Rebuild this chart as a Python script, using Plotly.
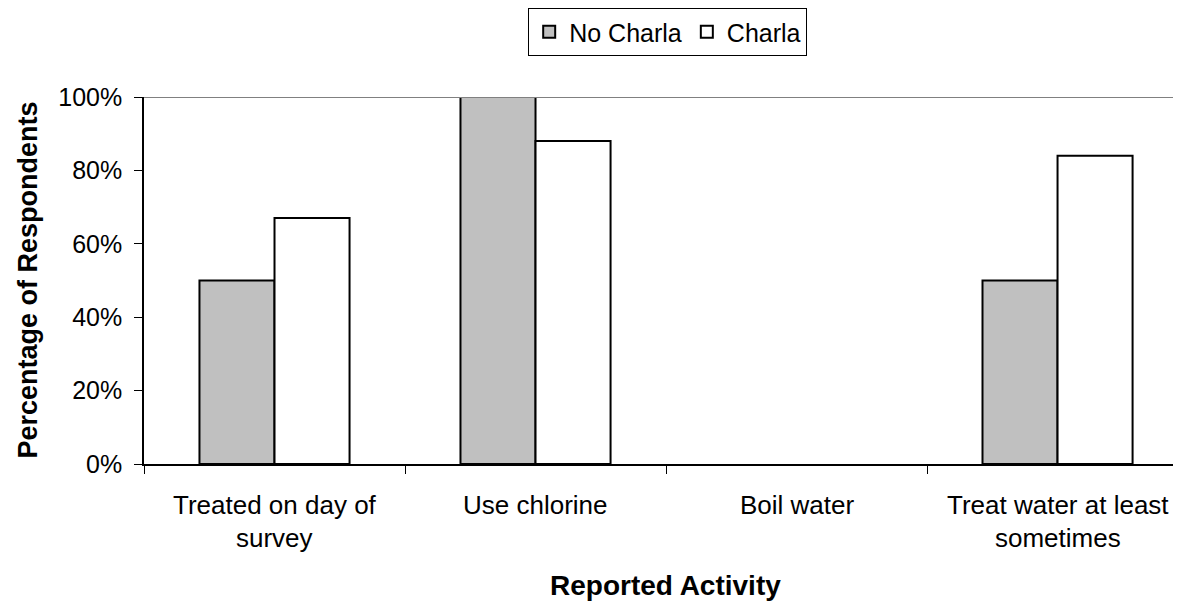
import plotly.graph_objects as go

categories = ["Treated on day of\nsurvey", "Use chlorine", "Boil water", "Treat water at least\nsometimes"]
no_charla = [0.50, 1.00, 0.0, 0.50]
charla = [0.67, 0.88, 0.0, 0.84]
series_names = ["No Charla", "Charla"]
y_ticks = [0, 0.2, 0.4, 0.6, 0.8, 1.0]
x_title = "Reported Activity"
y_title = "Percentage of Respondents"

FONT = "Liberation Sans, Arial, sans-serif"
cat_keys = [c.replace("\n", " ") for c in categories]


def outline(vals):
    return [2 if v > 0 else 0 for v in vals]


fig = go.Figure()
fig.add_trace(go.Bar(x=cat_keys, y=no_charla, name=series_names[0],
                     marker=dict(color="#C0C0C0", line=dict(color="black", width=outline(no_charla)))))
fig.add_trace(go.Bar(x=cat_keys, y=charla, name=series_names[1],
                     marker=dict(color="white", line=dict(color="black", width=outline(charla)))))

annotations = []
for key, label in zip(cat_keys, categories):
    lines = label.split("\n")
    for i, ln in enumerate(lines):
        annotations.append(dict(x=key, xref="x", y=-0.1117 - 0.09 * i, yref="paper",
                                text=ln, showarrow=False, xanchor="center", yanchor="middle",
                                font=dict(family=FONT, size=26, color="black")))
annotations.append(dict(x=0.503, xref="paper", y=-0.33, yref="paper", text="<b>" + x_title + "</b>",
                        showarrow=False, xanchor="center", yanchor="middle",
                        font=dict(family=FONT, size=28, color="black")))
annotations.append(dict(x=-0.1128, xref="paper", y=0.5, yref="paper", text="<b>" + y_title + "</b>",
                        showarrow=False, xanchor="center", yanchor="middle", textangle=-90,
                        font=dict(family=FONT, size=27, color="black")))

fig.update_layout(
    width=1173, height=594,
    margin=dict(l=136, r=0, t=89, b=138),
    paper_bgcolor="white", plot_bgcolor="white",
    barmode="group", bargap=0.425, bargroupgap=0,
    font=dict(family=FONT, color="black", size=26),
    showlegend=True,
    legend=dict(orientation="h", x=0.505, xanchor="center", y=1.243, yanchor="top",
                bordercolor="black", borderwidth=1, font=dict(family=FONT, size=25, color="black"),
                traceorder="normal", itemwidth=30),
    annotations=annotations,
    shapes=[dict(type="line", xref="paper", yref="y", x0=0, x1=1, y0=1, y1=1,
                 line=dict(color="#808080", width=2))],
)
fig.update_xaxes(type="category", range=[-0.5, 3.473], showticklabels=False,
                 tickson="boundaries", ticks="outside", ticklen=8, tickcolor="black", tickwidth=1,
                 showline=True, linecolor="black", linewidth=1.5, showgrid=False, zeroline=False)
fig.update_yaxes(range=[0, 1], tickvals=y_ticks, tickformat=".0%", ticks="outside", ticklen=8,
                 tickcolor="black", tickwidth=1, showline=True, linecolor="black", linewidth=1.5,
                 showgrid=False, zeroline=False, ticklabelstandoff=7,
                 tickfont=dict(family=FONT, size=25, color="black"))

fig.write_html("out.html")
